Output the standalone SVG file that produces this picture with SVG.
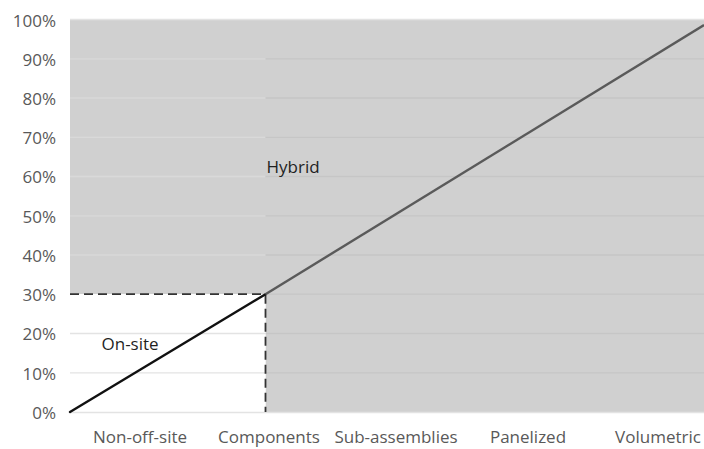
<svg xmlns="http://www.w3.org/2000/svg" width="704" height="449" viewBox="0 0 704 449">
  <style>
    .axis { font-family: "Open Sans", "Liberation Sans", sans-serif; font-size: 17px; fill: #595959; }
    .ylab { text-anchor: end; }
    .xlab { text-anchor: middle; }
    .area-label { font-family: "Open Sans", "Liberation Sans", sans-serif; font-size: 17px; fill: #1f1f1f; }
    .grid-light { stroke: #d9d9d9; stroke-width: 1.3; }
    .grid-dark { stroke: #c6c6c6; stroke-width: 1.3; }
    .grid-white { stroke: #e3e3e3; stroke-width: 1.3; }
    .dash { stroke: #333333; stroke-width: 1.8; stroke-dasharray: 9 5; fill: none; }
  </style>

  <rect x="0" y="0" width="704" height="449" fill="#ffffff"/>

  <!-- plot areas -->
  <g id="hybrid-area">
    <path d="M70 19.5 H704 V412 H265.5 V294.2 H70 Z" fill="#d0d0d0"/>
  </g>
  <g id="onsite-area">
    <rect x="70" y="294.2" width="195.5" height="117.8" fill="#ffffff"/>
  </g>

  <!-- gridlines -->
  <g id="gridlines">
    <line class="grid-white" x1="70" y1="19.5" x2="704" y2="19.5"/>
    <line class="grid-light" x1="70" y1="58.8" x2="265.5" y2="58.8"/>
    <line class="grid-light" x1="70" y1="98" x2="265.5" y2="98"/>
    <line class="grid-light" x1="70" y1="137.3" x2="265.5" y2="137.3"/>
    <line class="grid-light" x1="70" y1="176.5" x2="265.5" y2="176.5"/>
    <line class="grid-light" x1="70" y1="215.8" x2="265.5" y2="215.8"/>
    <line class="grid-light" x1="70" y1="255" x2="265.5" y2="255"/>
    <line class="grid-dark" x1="265.5" y1="58.8" x2="704" y2="58.8"/>
    <line class="grid-dark" x1="265.5" y1="98" x2="704" y2="98"/>
    <line class="grid-dark" x1="265.5" y1="137.3" x2="704" y2="137.3"/>
    <line class="grid-dark" x1="265.5" y1="176.5" x2="704" y2="176.5"/>
    <line class="grid-dark" x1="265.5" y1="215.8" x2="704" y2="215.8"/>
    <line class="grid-dark" x1="265.5" y1="255" x2="704" y2="255"/>
    <line class="grid-dark" x1="265.5" y1="294.2" x2="704" y2="294.2"/>
    <line class="grid-dark" x1="265.5" y1="333.5" x2="704" y2="333.5"/>
    <line class="grid-dark" x1="265.5" y1="372.8" x2="704" y2="372.8"/>
    <line class="grid-white" x1="70" y1="333.5" x2="265.5" y2="333.5"/>
    <line class="grid-white" x1="70" y1="372.8" x2="265.5" y2="372.8"/>
    <line class="grid-white" x1="70" y1="412.5" x2="704" y2="412.5"/>
  </g>

  <!-- connectors: threshold dashes and the trend line -->
  <g id="connectors">
    <path class="dash" d="M70 294.2 H265.5 V412"/>
    <line x1="70" y1="412" x2="265.5" y2="294.2" stroke="#111111" stroke-width="2.4" stroke-linecap="round"/>
    <line x1="265.5" y1="294.2" x2="704" y2="25" stroke="#5a5a5a" stroke-width="2.4"/>
  </g>

  <!-- y axis labels -->
  <g id="y-axis">
    <text class="axis ylab" x="56" y="26.5">100%</text>
    <text class="axis ylab" x="56" y="65.5">90%</text>
    <text class="axis ylab" x="56" y="104.5">80%</text>
    <text class="axis ylab" x="56" y="144">70%</text>
    <text class="axis ylab" x="56" y="183">60%</text>
    <text class="axis ylab" x="56" y="222.5">50%</text>
    <text class="axis ylab" x="56" y="261.5">40%</text>
    <text class="axis ylab" x="56" y="301">30%</text>
    <text class="axis ylab" x="56" y="340">20%</text>
    <text class="axis ylab" x="56" y="379.5">10%</text>
    <text class="axis ylab" x="56" y="418.5">0%</text>
  </g>

  <!-- x axis labels -->
  <g id="x-axis">
    <text class="axis xlab" x="140" y="443">Non-off-site</text>
    <text class="axis xlab" x="269" y="443">Components</text>
    <text class="axis xlab" x="396" y="443">Sub-assemblies</text>
    <text class="axis xlab" x="528" y="443">Panelized</text>
    <text class="axis xlab" x="658" y="443">Volumetric</text>
  </g>

  <!-- region labels -->
  <g id="label-hybrid">
    <text class="area-label" x="266.5" y="172.5">Hybrid</text>
  </g>
  <g id="label-onsite">
    <text class="area-label" x="101.5" y="350">On-site</text>
  </g>
</svg>
